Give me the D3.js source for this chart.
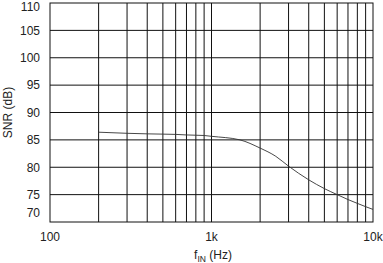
<!DOCTYPE html>
<html>
<head>
<meta charset="utf-8">
<script src="https://cdn.jsdelivr.net/npm/d3@7"></script>
<style>
  body { margin: 0; background: #fff; }
  svg { display: block; }
  text { font-family: "Liberation Sans", Arial, sans-serif; fill: #222; }
</style>
</head>
<body>
<div id="chart"></div>
<script>
// SNR vs input frequency
const freqHz = [200, 300, 400, 500, 600, 700, 800, 900, 1000, 1500, 2000, 2500, 3000, 4000, 5000, 6000, 7000, 8000, 9000, 10000];
const snrDb = [86.4, 86.2, 86.1, 86.05, 86.0, 85.9, 85.85, 85.8, 85.65, 85.0, 83.5, 82.0, 80.2, 77.7, 76.1, 75.0, 74.1, 73.4, 72.8, 72.3];

const xGrid = [200, 300, 400, 500, 600, 700, 800, 900, 1000, 2000, 3000, 4000, 5000, 6000, 7000, 8000, 9000];
const xTicks = [100, 1000, 10000];
const xTickLabels = ["100", "1k", "10k"];
const yTicks = [70, 75, 80, 85, 90, 95, 100, 105, 110];

const width = 383;
const height = 263;
const plot = { left: 50, right: 373, top: 3, bottom: 222 };

const x = d3.scaleLog().domain([100, 10000]).range([plot.left, plot.right]);
const y = d3.scaleLinear().domain([70, 110]).range([plot.bottom, plot.top]);

const svg = d3
  .select("#chart")
  .append("svg")
  .attr("width", width)
  .attr("height", height);

// grid
svg
  .append("g")
  .selectAll("line")
  .data(xGrid)
  .enter()
  .append("line")
  .attr("x1", (d) => x(d))
  .attr("x2", (d) => x(d))
  .attr("y1", plot.top)
  .attr("y2", plot.bottom)
  .attr("stroke", "#111")
  .attr("stroke-width", 1);

svg
  .append("g")
  .selectAll("line")
  .data(yTicks.slice(1, -1))
  .enter()
  .append("line")
  .attr("x1", plot.left)
  .attr("x2", plot.right)
  .attr("y1", (d) => y(d))
  .attr("y2", (d) => y(d))
  .attr("stroke", "#111")
  .attr("stroke-width", 1);

// frame
svg
  .append("rect")
  .attr("x", plot.left)
  .attr("y", plot.top)
  .attr("width", plot.right - plot.left)
  .attr("height", plot.bottom - plot.top)
  .attr("fill", "none")
  .attr("stroke", "#111")
  .attr("stroke-width", 1);

// curve
const line = d3
  .line()
  .curve(d3.curveMonotoneX)
  .x((d, i) => x(freqHz[i]))
  .y((d) => y(d));

svg
  .append("path")
  .datum(snrDb)
  .attr("fill", "none")
  .attr("stroke", "#333")
  .attr("stroke-width", 0.9)
  .attr("d", line);

// y tick labels (70 nudged up to clear "100", 110 nudged down to stay inside)
svg
  .append("g")
  .selectAll("text")
  .data(yTicks)
  .enter()
  .append("text")
  .attr("x", 40)
  .attr("y", (d) => (d === 70 ? y(d) - 9 : d === 110 ? y(d) + 4 : y(d)))
  .attr("dy", "0.36em")
  .attr("text-anchor", "end")
  .attr("font-size", "12px")
  .text((d) => d);

// x tick labels
svg
  .append("g")
  .selectAll("text")
  .data(xTicks)
  .enter()
  .append("text")
  .attr("x", (d) => x(d))
  .attr("y", 241)
  .attr("text-anchor", "middle")
  .attr("font-size", "12px")
  .text((d, i) => xTickLabels[i]);

// axis titles
const xTitle = svg
  .append("text")
  .attr("x", 213)
  .attr("y", 259)
  .attr("text-anchor", "middle")
  .attr("font-size", "12px");
xTitle.append("tspan").text("f");
xTitle.append("tspan").attr("font-size", "8.5px").attr("dy", 2.5).text("IN");
xTitle.append("tspan").attr("dy", -2.5).text(" (Hz)");

svg
  .append("text")
  .attr("transform", `translate(12,${(plot.top + plot.bottom) / 2}) rotate(-90)`)
  .attr("text-anchor", "middle")
  .attr("font-size", "12px")
  .text("SNR (dB)");
</script>
</body>
</html>
